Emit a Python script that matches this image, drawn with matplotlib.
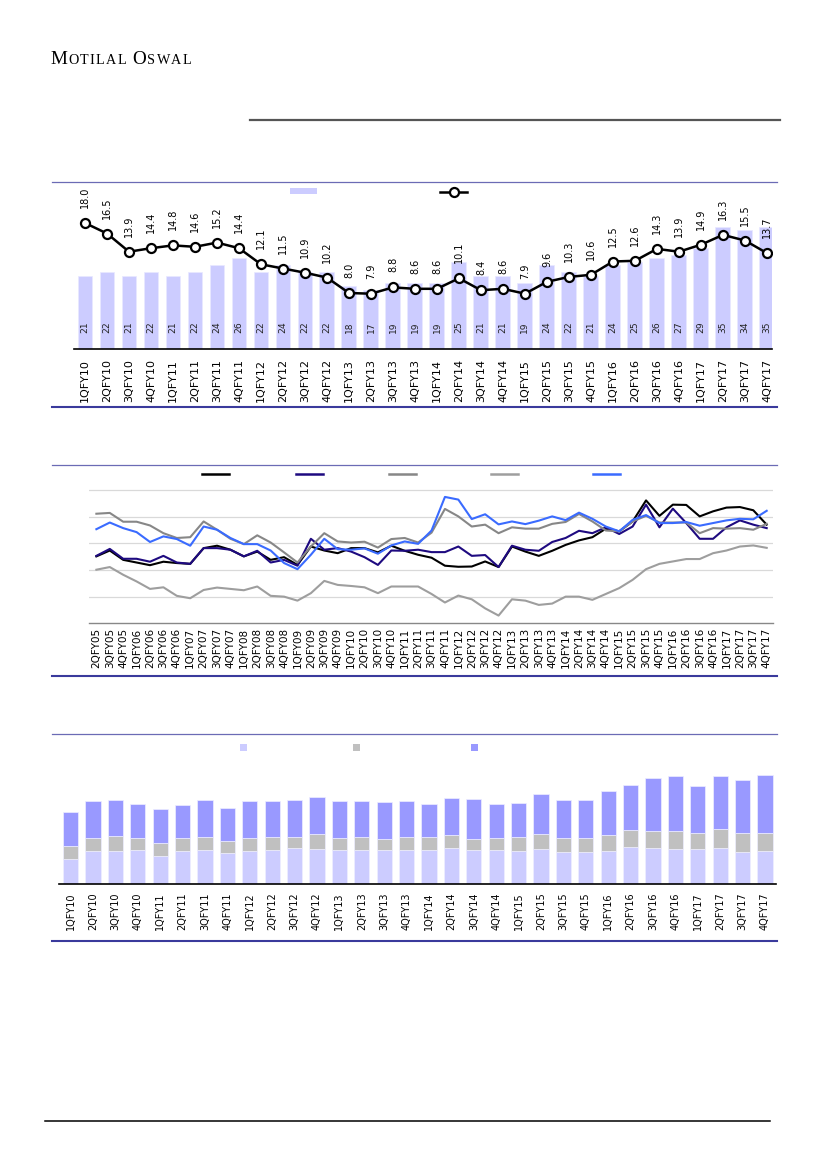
import matplotlib
matplotlib.use('Agg')
import matplotlib.pyplot as plt
from matplotlib.lines import Line2D
from matplotlib.patches import Patch

W, H = 827, 1169

# chart 1: bars + line (1QFY10 .. 4QFY17)
quarters = [f'{q}QFY{y:02d}' for y in range(10, 18) for q in range(1, 5)]
bar_vals = [21, 22, 21, 22, 21, 22, 24, 26, 22, 24, 22, 22, 18, 17, 19, 19,
            19, 25, 21, 21, 19, 24, 22, 21, 24, 25, 26, 27, 29, 35, 34, 35]
line_vals = [18.0, 16.5, 13.9, 14.4, 14.8, 14.6, 15.2, 14.4, 12.1, 11.5, 10.9, 10.2,
             8.0, 7.9, 8.8, 8.6, 8.6, 10.1, 8.4, 8.6, 7.9, 9.6, 10.3, 10.6,
             12.5, 12.6, 14.3, 13.9, 14.9, 16.3, 15.5, 13.7]

# chart 2: five lines (2QFY05 .. 4QFY17)
quarters_long = ['2QFY05', '3QFY05', '4QFY05'] + \
    [f'{q}QFY{y:02d}' for y in range(6, 18) for q in range(1, 5)]
s_black = [2.51, 2.73, 2.38, 2.28, 2.18, 2.31, 2.26, 2.23, 2.82, 2.91, 2.76, 2.51, 2.69,
           2.38, 2.48, 2.19, 2.88, 2.73, 2.63, 2.82, 2.82, 2.66, 2.91, 2.72, 2.57, 2.46,
           2.16, 2.12, 2.13, 2.32, 2.11, 2.88, 2.69, 2.53, 2.72, 2.94, 3.11, 3.23, 3.55,
           3.45, 3.82, 4.61, 4.03, 4.45, 4.44, 4.01, 4.20, 4.34, 4.36, 4.24, 3.70]
s_navy = [2.53, 2.79, 2.42, 2.42, 2.31, 2.53, 2.28, 2.23, 2.82, 2.82, 2.76, 2.51, 2.72,
          2.28, 2.38, 2.16, 3.17, 2.76, 2.82, 2.69, 2.48, 2.19, 2.73, 2.72, 2.76, 2.67,
          2.67, 2.88, 2.53, 2.56, 2.11, 2.91, 2.76, 2.72, 3.05, 3.20, 3.47, 3.38, 3.60,
          3.35, 3.63, 4.45, 3.60, 4.30, 3.76, 3.17, 3.17, 3.60, 3.86, 3.70, 3.57]
s_gray_hi = [4.11, 4.14, 3.81, 3.81, 3.67, 3.38, 3.20, 3.23, 3.82, 3.51, 3.17, 2.97, 3.30,
             3.03, 2.66, 2.28, 2.88, 3.38, 3.07, 3.03, 3.06, 2.84, 3.16, 3.20, 3.03, 3.40,
             4.29, 4.01, 3.63, 3.70, 3.38, 3.60, 3.55, 3.55, 3.73, 3.80, 4.10, 3.82, 3.48,
             3.45, 3.82, 4.03, 3.78, 3.78, 3.78, 3.38, 3.57, 3.55, 3.57, 3.51, 3.73]
s_gray_lo = [2.01, 2.11, 1.82, 1.57, 1.29, 1.35, 1.03, 0.94, 1.25, 1.34, 1.29, 1.24, 1.38,
             1.03, 1.00, 0.85, 1.13, 1.59, 1.44, 1.40, 1.35, 1.13, 1.38, 1.38, 1.38, 1.10,
             0.78, 1.04, 0.90, 0.56, 0.29, 0.90, 0.85, 0.69, 0.74, 1.00, 1.00, 0.88, 1.10,
             1.32, 1.63, 2.03, 2.23, 2.32, 2.41, 2.41, 2.63, 2.73, 2.88, 2.92, 2.83]
s_blue = [3.53, 3.78, 3.57, 3.42, 3.05, 3.26, 3.16, 2.91, 3.63, 3.51, 3.20, 2.97, 2.97,
          2.73, 2.26, 2.03, 2.57, 3.17, 2.78, 2.76, 2.81, 2.61, 2.92, 3.07, 2.98, 3.48,
          4.74, 4.64, 3.91, 4.09, 3.71, 3.82, 3.72, 3.85, 4.01, 3.87, 4.15, 3.92, 3.63,
          3.45, 3.88, 4.06, 3.76, 3.76, 3.80, 3.66, 3.76, 3.86, 3.92, 3.90, 4.22]

# chart 3: stacked bars (1QFY10 .. 4QFY17)
stk_light = [25, 33, 33, 33.7, 28, 32.7, 33.7, 30.7, 33, 34, 35.7, 34.7, 33.7, 33.7, 33.7, 33.7,
             34, 36, 33.7, 33.7, 33, 35, 32, 31.7, 33, 37, 36, 35, 35, 36, 32, 33]
stk_gray = [12.7, 13, 14.7, 12, 13, 13, 13.3, 12.3, 13, 13, 11.3, 15, 12.3, 13.3, 11.3, 13.3,
            13, 12.7, 11.3, 12.3, 14, 14.7, 14, 14, 15.7, 17, 17, 18, 15.7, 18.7, 18.7, 17.7]
stk_purple = [34.6, 36.7, 36.6, 34, 34, 33.3, 37.3, 33.3, 37, 36.3, 37.3, 37, 37, 36.3, 36.7, 35.7,
              33.3, 37.3, 40, 33.7, 33.7, 40, 38, 38.3, 44.6, 45.3, 53, 55, 47.3, 53.3, 53.3, 58]

fig = plt.figure(figsize=(W / 100, H / 100), dpi=100)


def px_axes(x0, y_top, x1, y_bot):
    return fig.add_axes([x0 / W, 1 - y_bot / H, (x1 - x0) / W, (y_bot - y_top) / H])


def hrule(x0, x1, y, color, lw):
    fig.add_artist(Line2D([x0 / W, x1 / W], [1 - y / H, 1 - y / H],
                          transform=fig.transFigure, color=color, lw=lw))


def key(handle, x, y, hl, hh=0.7):
    leg = fig.legend(handles=[handle], labels=[''], loc='center left',
                     bbox_to_anchor=(x / W, 1 - y / H), frameon=False, borderpad=0,
                     borderaxespad=0, handletextpad=0, handlelength=hl,
                     handleheight=hh, fontsize=7, numpoints=1)
    return leg


# header
renderer = fig.canvas.get_renderer()
x = 50
for word in ['MOTILAL', 'OSWAL']:
    for j, ch in enumerate(word):
        t = fig.text(x / W, 1 - 64.3 / H, ch, fontsize=13.8 if j == 0 else 10.2,
                     family='Liberation Serif', va='baseline', ha='left')
        x = t.get_window_extent(renderer).x1 + 1.3
    x += 5
hrule(250, 780, 120, '#555555', 1.6)

top_c, bot_c = '#6B6BB5', '#3A3A9C'
for yt, yb in [(182, 407), (465, 676), (734, 941)]:
    hrule(52, 777, yt, top_c, 0.9)
    hrule(52, 777, yb, bot_c, 1.5)
hrule(45, 770, 1121, 'black', 1.1)

# ---- chart 1
ax = px_axes(74, 209, 772, 349)
xs = range(len(quarters))
ax.bar(xs, bar_vals, width=0.68, color='#CCCCFF', edgecolor='#E8E8FF', lw=0.5)
for i, v in enumerate(bar_vals):
    ax.annotate(str(v), xy=(i, 0), xytext=(0, 22), textcoords='offset pixels',
                ha='center', va='center', rotation=90, fontsize=6.6, color='#222222')
ax.set_ylim(0, 40)
ax.set_xlim(-0.5, 31.23)
ax.set_xticks(list(xs))
ax.set_xticklabels(quarters, rotation=90, fontsize=8)
ax.tick_params(axis='x', length=0, pad=7)
ax.set_yticks([])
for s in ['top', 'left', 'right']:
    ax.spines[s].set_visible(False)
ax.spines['bottom'].set_linewidth(1.2)

ax2 = ax.twinx()
ax2.plot(xs, line_vals, color='black', lw=1.8, marker='o', ms=6.5, mfc='white',
         mec='black', mew=1.6, zorder=3)
for i, v in enumerate(line_vals):
    ax2.annotate(f'{v:.1f}', xy=(i, v), xytext=(0, 15), textcoords='offset pixels',
                 ha='center', va='bottom', rotation=90, fontsize=7)
ax2.set_ylim(0, 20)
ax2.set_yticks([])
for s in ax2.spines.values():
    s.set_visible(False)

key(Patch(facecolor='#CCCCFF'), 290, 191.5, 2.78, 0.62)
key(Line2D([], [], color='black', lw=1.8, marker='o', ms=6.5, mfc='white', mec='black',
           mew=1.6), 440, 192.5, 2.78)

# ---- chart 2
bx = px_axes(89, 482, 773, 623.3)
xl = range(len(quarters_long))
series = [(s_black, 'black'), (s_navy, '#1E0A80'), (s_gray_hi, '#878787'),
          (s_gray_lo, '#9E9E9E'), (s_blue, '#3A6BFF')]
for vals, c in series:
    bx.plot(xl, vals, color=c, lw=1.5)
bx.set_ylim(0, 5.3)
bx.set_xlim(-0.55, 50.47)
bx.set_yticks([1, 2, 3, 4, 5])
bx.yaxis.grid(True, color='#D9D9D9', lw=0.9)
bx.set_axisbelow(True)
bx.tick_params(axis='y', length=0, labelleft=False)
bx.set_xticks(list(xl))
bx.set_xticklabels(quarters_long, rotation=90, fontsize=7.5)
bx.tick_params(axis='x', length=0, pad=3.5)
for s in ['top', 'left', 'right']:
    bx.spines[s].set_visible(False)
bx.spines['bottom'].set_color('#888888')
bx.spines['bottom'].set_linewidth(1.0)

for (vals, c), lx in zip(series, [202, 296, 389, 491, 593]):
    key(Line2D([], [], color=c, lw=1.8), lx, 474, 2.8)

# ---- chart 3
cx = px_axes(59, 745, 776, 884)
xq = range(len(quarters))
base2 = [a + b for a, b in zip(stk_light, stk_gray)]
cx.bar(xq, stk_light, width=0.68, color='#CCCCFF', edgecolor='#EEEEFF', lw=0.5)
cx.bar(xq, stk_gray, bottom=stk_light, width=0.68, color='#C0C0C0', edgecolor='#EEEEFF', lw=0.5)
cx.bar(xq, stk_purple, bottom=base2, width=0.68, color='#9999FF', edgecolor='#EEEEFF', lw=0.5)
cx.set_ylim(0, 139)
cx.set_xlim(-0.52, 31.49)
cx.set_xticks(list(xq))
cx.set_xticklabels(quarters, rotation=90, fontsize=7)
cx.tick_params(axis='x', length=0, pad=6)
cx.set_yticks([])
for s in ['top', 'left', 'right']:
    cx.spines[s].set_visible(False)
cx.spines['bottom'].set_linewidth(1.2)

for c, lx in zip(['#CCCCFF', '#C0C0C0', '#9999FF'], [240, 353, 471]):
    key(Patch(facecolor=c), lx, 747.5, 0.72, 0.72)

fig.savefig('out.png', dpi=100)
